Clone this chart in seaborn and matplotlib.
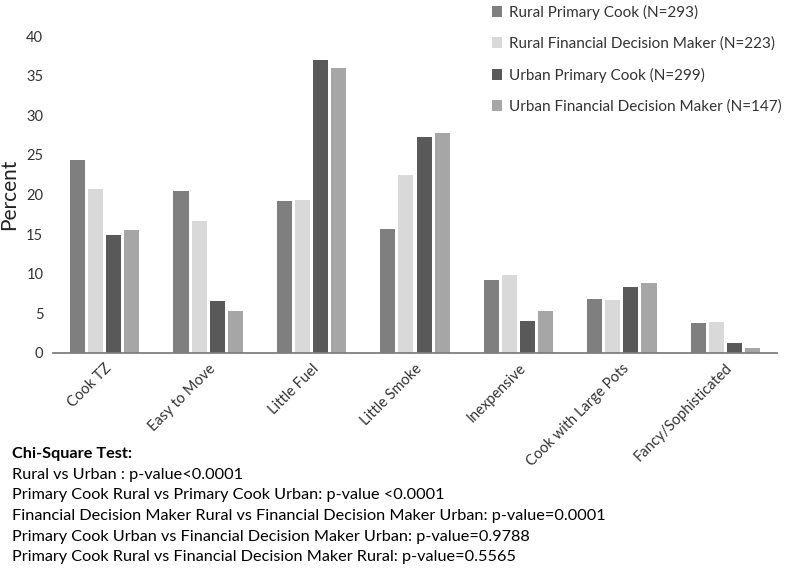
import matplotlib
matplotlib.use("Agg")
import matplotlib.pyplot as plt
import seaborn as sns
import pandas as pd
from matplotlib.patches import Patch

categories = ["Cook TZ", "Easy to Move", "Little Fuel", "Little Smoke",
              "Inexpensive", "Cook with Large Pots", "Fancy/Sophisticated"]
series_names = ["Rural Primary Cook (N=293)",
                "Rural Financial Decision Maker (N=223)",
                "Urban Primary Cook (N=299)",
                "Urban Financial Decision Maker (N=147)"]
rural_primary_cook = [24.3, 20.5, 19.2, 15.7, 9.2, 6.8, 3.8]
rural_fin_decision = [20.7, 16.6, 19.3, 22.4, 9.8, 6.7, 3.9]
urban_primary_cook = [14.9, 6.6, 37.0, 27.3, 4.0, 8.3, 1.3]
urban_fin_decision = [15.5, 5.3, 35.9, 27.8, 5.3, 8.8, 0.6]
colors = ["#7f7f7f", "#d9d9d9", "#595959", "#a6a6a6"]
y_ticks = [0, 5, 10, 15, 20, 25, 30, 35, 40]
notes = ["Chi-Square Test:",
         "Rural vs Urban : p-value<0.0001",
         "Primary Cook Rural vs Primary Cook Urban: p-value <0.0001",
         "Financial Decision Maker Rural vs Financial Decision Maker Urban: p-value=0.0001",
         "Primary Cook Urban vs Financial Decision Maker Urban: p-value=0.9788",
         "Primary Cook Rural vs Financial Decision Maker Rural: p-value=0.5565"]

all_series = [rural_primary_cook, rural_fin_decision, urban_primary_cook, urban_fin_decision]
rows = []
for name, vals in zip(series_names, all_series):
    for c, v in zip(categories, vals):
        rows.append({"Category": c, "Group": name, "Percent": v})
df = pd.DataFrame(rows)

sns.set_style("white")
plt.rcParams["font.family"] = ["Lato", "DejaVu Sans"]

fig = plt.figure(figsize=(7.87, 5.68), dpi=100)
ax = fig.add_axes([53/787, 1-353/568, (777-53)/787, (353-36)/568])

sns.barplot(data=df, x="Category", y="Percent", hue="Group", order=categories,
            hue_order=series_names, palette=colors, width=0.7, gap=0.17,
            ax=ax, legend=False, saturation=1, edgecolor="none")

ax.set_xlim(-0.5, len(categories) - 0.5)
ax.set_ylim(0, 40)
ax.set_yticks(y_ticks)
ax.set_yticklabels([str(t) for t in y_ticks], fontsize=10.5, color="#333333")
ax.set_xticks(range(len(categories)))
ax.set_xticklabels(categories, rotation=45, ha="right", rotation_mode="anchor",
                   fontsize=10.5, color="#333333")
ax.tick_params(axis="both", length=0)
ax.tick_params(axis="y", pad=7)
ax.tick_params(axis="x", pad=6)
for s in ["top", "right", "left"]:
    ax.spines[s].set_visible(False)
ax.spines["bottom"].set_color("#7f7f7f")
ax.spines["bottom"].set_linewidth(1.3)
ax.set_xlabel("")
ax.set_ylabel("")
fig.text(9/787, 1 - 194/568, "Percent", rotation=90, ha="center", va="center",
         fontsize=15, color="#222222")

handles = [Patch(facecolor=c, edgecolor="none") for c in colors]
fig.legend(handles, series_names, loc="upper left",
           bbox_to_anchor=(481/787, 1 + 6/568), frameon=False,
           fontsize=11.0, handlelength=0.7, handleheight=0.7,
           handletextpad=0.4, labelspacing=1.1, borderpad=0.2,
           labelcolor="#333333")

ys = [454, 475, 495, 516, 537, 557]
for i, (t, y) in enumerate(zip(notes, ys)):
    fig.text(12/787, 1 - y/568, t, fontsize=11.7, va="center", ha="left",
             fontweight="bold" if i == 0 else "normal", color="#000000")

fig.savefig("out.png", dpi=100)
